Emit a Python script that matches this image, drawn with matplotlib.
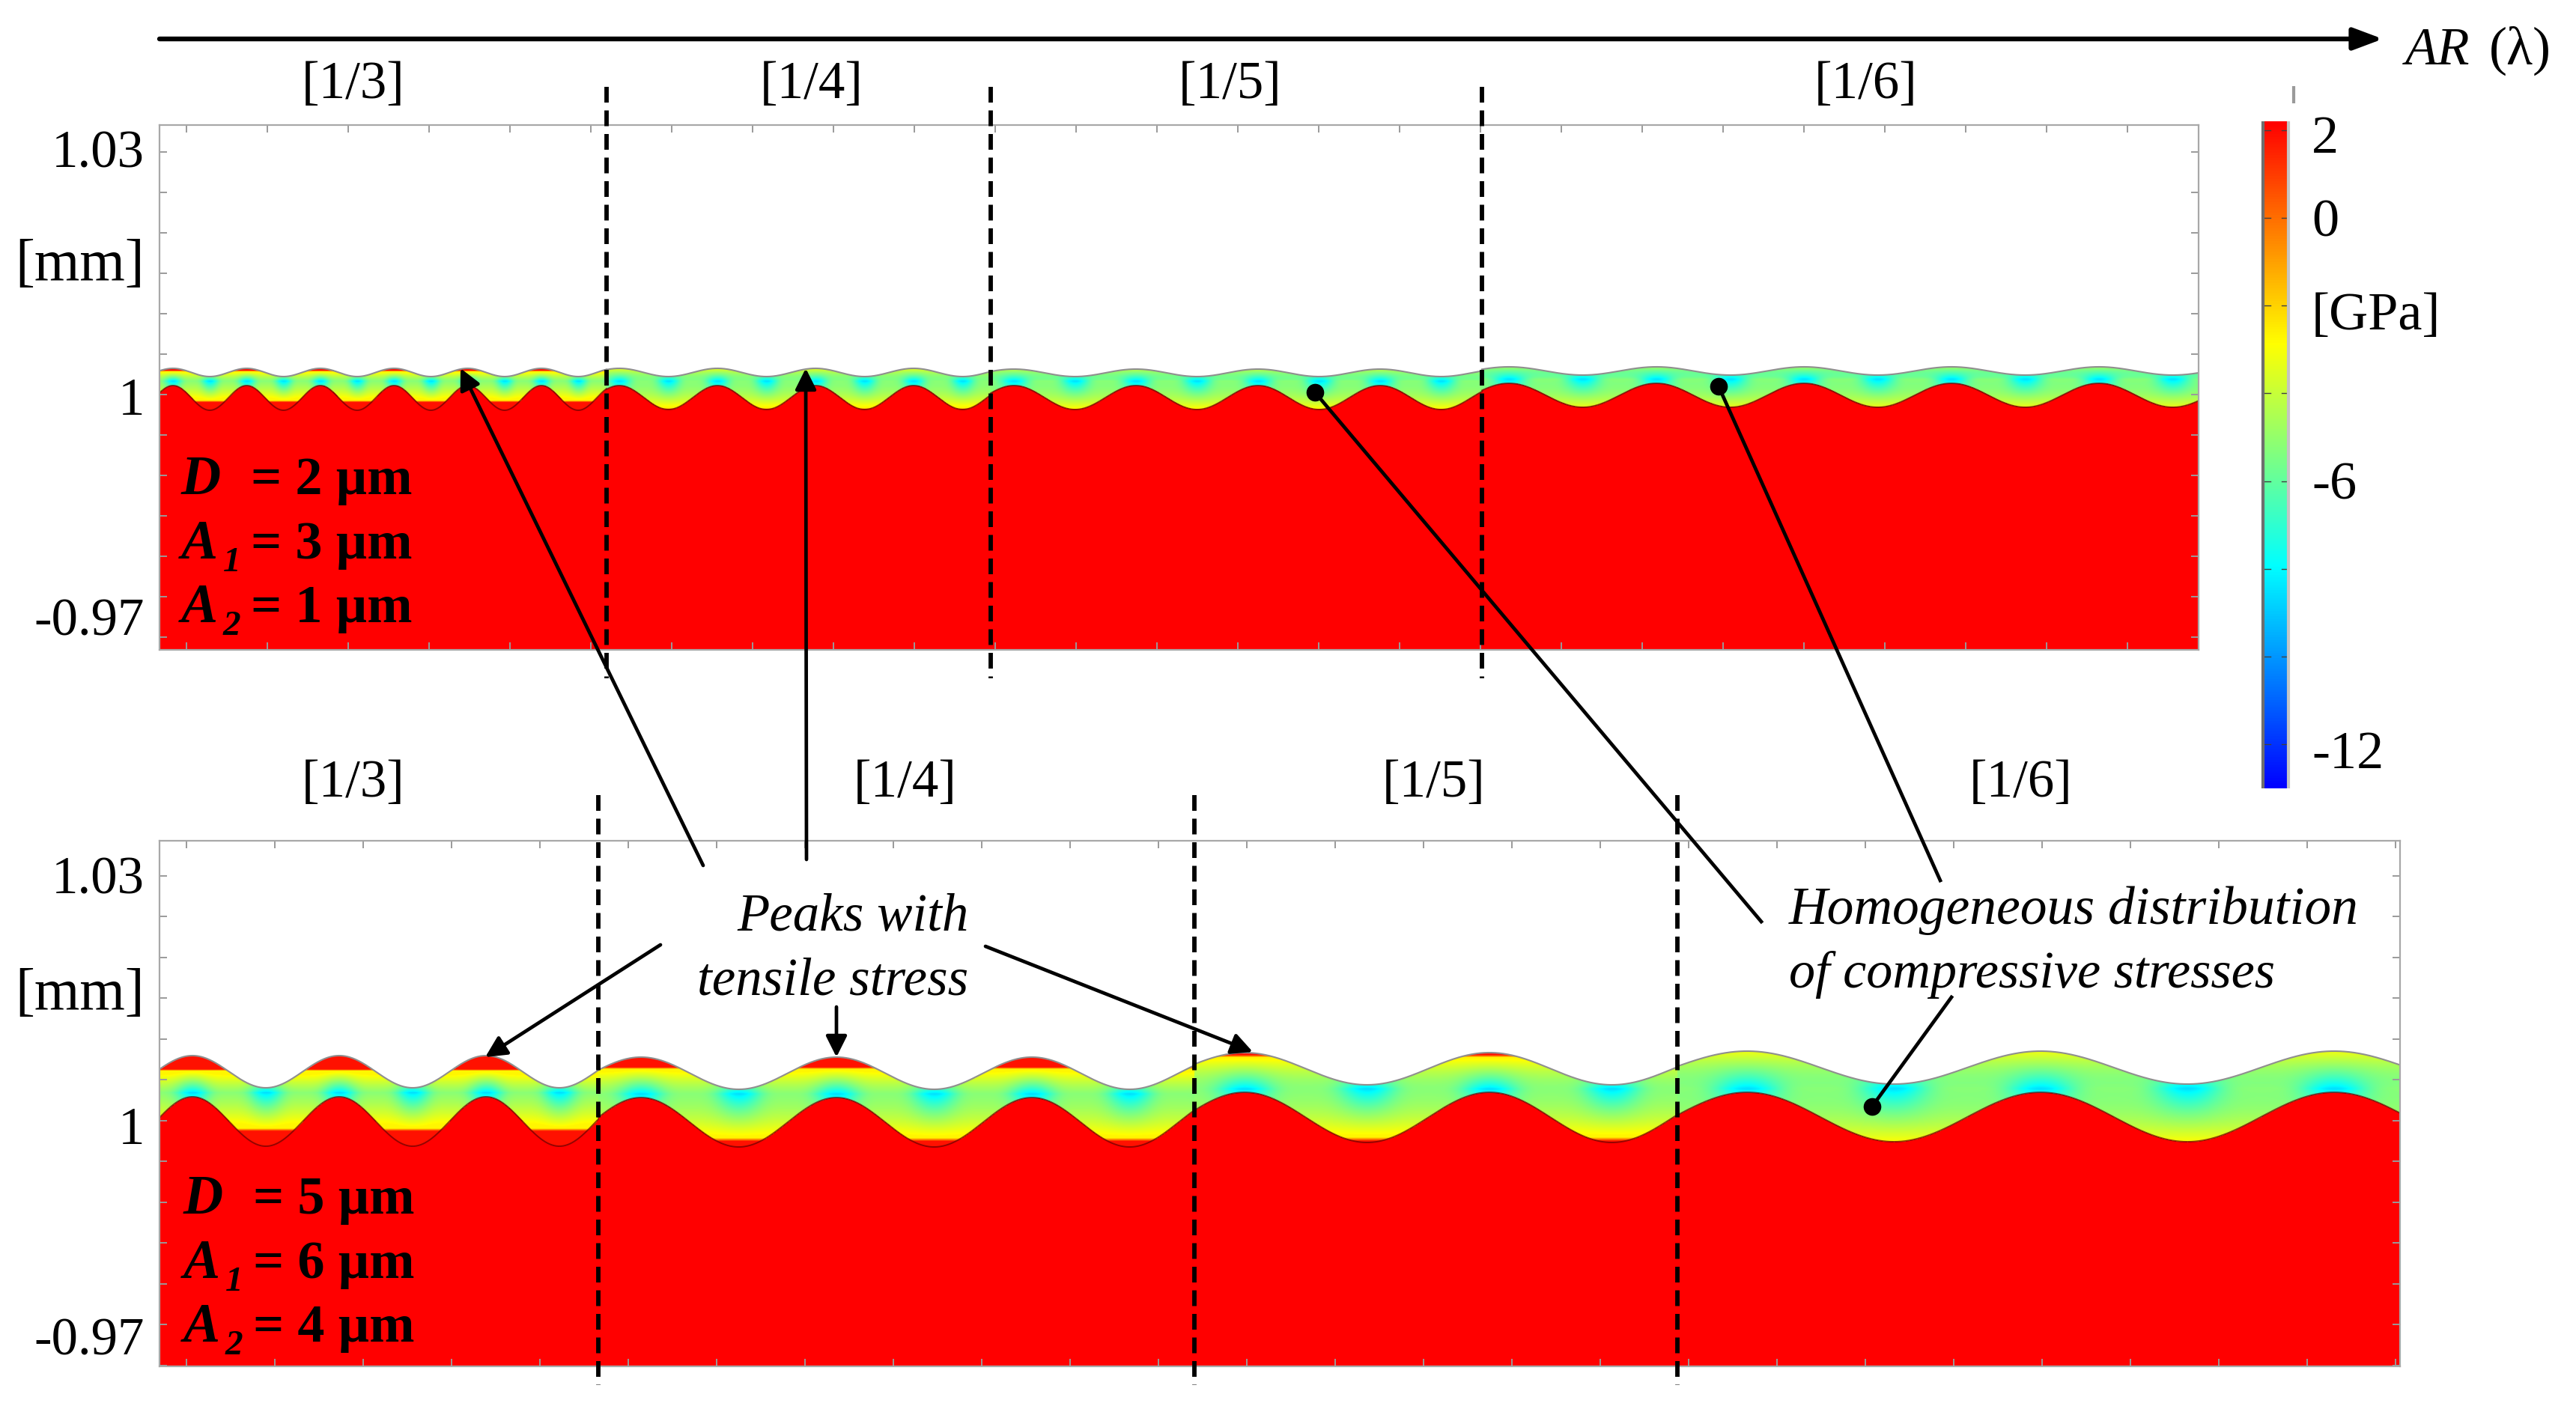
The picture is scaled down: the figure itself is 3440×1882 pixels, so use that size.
import matplotlib
matplotlib.use("Agg")
import matplotlib.pyplot as plt
import numpy as np
from matplotlib.colors import LinearSegmentedColormap

W, H = 3440, 1882
plt.rcParams["font.family"] = ["Liberation Serif", "DejaVu Serif"]

# all geometry, in reference pixels
# panel 1: D = 2, A1 = 3, A2 = 1
edges_1 = [213, 810, 1323, 1979, 2936]
first_crest_1 = [231, 827, 1354, 2015]
wavelength_1 = [98.4, 131, 163, 197]
top_crest_1 = [492, 492, 493, 490]
top_trough_1 = [503, 503, 503, 501]
iface_crest_1 = [515, 515, 515, 512]
iface_trough_1 = [548, 547, 547, 544]
stress_top_1 = [-0.9, -3.3, -4.2, -4.8]
stress_bot_1 = [0.0, -2.2, -2.7, -3.2]

# panel 2: D = 5, A1 = 6, A2 = 4
edges_2 = [213, 799, 1595, 2240, 3205]
first_crest_2 = [257, 856, 1662, 2333]
wavelength_2 = [196, 261, 327, 392]
top_crest_2 = [1410, 1412, 1406, 1404]
top_trough_2 = [1453, 1455, 1449, 1448]
iface_crest_2 = [1465, 1466, 1459, 1459]
iface_trough_2 = [1531, 1532, 1526, 1525]
stress_top_2 = [0.9, -0.15, -1.8, -3.2]
stress_bot_2 = [0.07, -1.4, -1.9, -2.9]

neutral_stress = -8.6
side_stress = 3.4
tensile_jump = -2.5

ar_labels = ["[1/3]", "[1/4]", "[1/5]", "[1/6]"]
ar_label_x_1 = [472, 1084, 1643, 2492]
ar_label_x_2 = [472, 1209, 1915, 2699]

cbar_min, cbar_max = -13.0, 2.2
cbar_ticks = [2, 0, -2, -4, -6, -8, -10, -12]
cbar_labels = ["2", "0", "[GPa]", "-6", "-12"]
cbar_label_y = [186, 298, 422, 649, 1009]

y_labels = ["1.03", "[mm]", "1", "-0.97"]
y_label_pos_1 = [206, 355, 537, 831]
y_label_pos_2 = [1176, 1329, 1511, 1792]

params_1 = [("D", "", "= 2 µm"), ("A", "1", "= 3 µm"), ("A", "2", "= 1 µm")]
params_2 = [("D", "", "= 5 µm"), ("A", "1", "= 6 µm"), ("A", "2", "= 4 µm")]

stress_cmap = LinearSegmentedColormap.from_list(
    "rainbow_comsol", [(0, "#0000ff"), (1 / 3, "#00ffff"), (2 / 3, "#ffff00"), (1, "#ff0000")]
)


def wave(x, crest_x, lam, y_crest, y_trough):
    c = np.cos(2 * np.pi * (x - crest_x) / lam)
    return (y_crest + y_trough) / 2 - (y_trough - y_crest) / 2 * c


def panel_field(xs, ys, edges, crest, lam, tc, tt, ic, it, st, sb):
    X, Y = np.meshgrid(xs, ys)
    field = np.full(X.shape, np.nan)
    for i in range(len(crest)):
        cols = (X >= edges[i]) & (X < edges[i + 1])
        top = wave(X, crest[i], lam[i], tc[i], tt[i])
        bot = wave(X, crest[i], lam[i], ic[i], it[i])
        yc = (tt[i] + ic[i]) / 2
        up = np.clip((yc - Y) / (yc - tc[i]), 0, 1.2) ** 0.85
        down = np.clip((Y - yc) / (it[i] - yc), 0, 1.2) ** 0.85
        cos2 = np.cos(2 * np.pi * (X - crest[i]) / lam[i]) ** 2
        # x-independent profile, so the yellow and red bands keep a flat edge
        flat = neutral_stress + (st[i] - neutral_stress) * up + (sb[i] - neutral_stress) * down
        s = flat + side_stress * (1 - cos2 ** 2) * np.clip(1 - up - down, 0, 1) ** 2
        s = np.minimum(s, -2.7) + 4.5 * np.clip((flat - tensile_jump) / 0.4, 0, 1)
        s[Y > bot] = 10
        s[Y < top] = np.nan
        field[cols] = s[cols]
    return np.ma.masked_invalid(field)


def draw_panel(fig, box, edges, crest, lam, tc, tt, ic, it, st, sb, x_ticks, y_ticks):
    left, top, right, bottom = box
    ax = fig.add_axes([left / W, 1 - bottom / H, (right - left) / W, (bottom - top) / H])
    xs = np.arange(left, right)
    ys = np.arange(top, bottom)
    field = panel_field(xs, ys, edges, crest, lam, tc, tt, ic, it, st, sb)
    ax.imshow(field, cmap=stress_cmap, vmin=cbar_min, vmax=cbar_max, aspect="auto",
              extent=(left, right, bottom, top), interpolation="bilinear")
    for i in range(len(crest)):
        xx = np.arange(edges[i], edges[i + 1] + 1)
        ax.plot(xx, wave(xx, crest[i], lam[i], tc[i], tt[i]), color="#8f8f8f", lw=1.5)
        ax.plot(xx, wave(xx, crest[i], lam[i], ic[i], it[i]), color="#700000", lw=1.4, alpha=0.75)
    ax.set_xlim(left, right)
    ax.set_ylim(bottom, top)
    ax.set_xticks(x_ticks)
    ax.set_yticks(y_ticks)
    ax.tick_params(direction="in", length=7, width=1.4, color="#9a9a9a",
                   top=True, right=True, labelleft=False, labelbottom=False)
    for s in ax.spines.values():
        s.set_color("#a8a8a8")
        s.set_linewidth(1.6)
    return ax


def param_block(ax, params, dx, baselines):
    for (name, sub, rest), y in zip(params, baselines):
        ax.text(242 + dx, y, name, fontsize=53, style="italic", weight="bold", ha="left", va="baseline")
        if sub:
            ax.text(298 + dx, y + 17, sub, fontsize=34, style="italic", weight="bold", ha="left", va="baseline")
        ax.text(335 + dx, y, rest, fontsize=52, weight="bold", ha="left", va="baseline")


def arrow(ax, start, tip):
    ax.annotate("", xy=tip, xytext=start, annotation_clip=False,
                arrowprops=dict(arrowstyle="-|>,head_length=17,head_width=8.5", mutation_scale=1,
                                lw=3.4, color="black", shrinkA=0, shrinkB=0))


def main():
    fig = plt.figure(figsize=(W / 100, H / 100), dpi=100, facecolor="white")

    draw_panel(fig, (213, 167, 2936, 868), edges_1, first_crest_1, wavelength_1,
               top_crest_1, top_trough_1, iface_crest_1, iface_trough_1,
               stress_top_1, stress_bot_1, np.arange(249, 2936, 108), np.arange(203, 868, 54))
    draw_panel(fig, (213, 1123, 3205, 1825), edges_2, first_crest_2, wavelength_2,
               top_crest_2, top_trough_2, iface_crest_2, iface_trough_2,
               stress_top_2, stress_bot_2, np.arange(249, 3205, 118), np.arange(1170, 1825, 54.5))

    # colour bar
    cax = fig.add_axes([3024 / W, 1 - 1053 / H, 30 / W, (1053 - 162) / H])
    sm = plt.cm.ScalarMappable(cmap=stress_cmap, norm=plt.Normalize(cbar_min, cbar_max))
    cb = fig.colorbar(sm, cax=cax)
    cb.set_ticks([])
    cb.outline.set_visible(False)
    for t in cbar_ticks:
        cax.plot([0, 0.25], [t, t], color="#404040", lw=1, transform=cax.get_yaxis_transform())
        cax.plot([0.75, 1], [t, t], color="#404040", lw=1, transform=cax.get_yaxis_transform())

    # overlay in reference pixels for the annotations
    ov = fig.add_axes([0, 0, 1, 1], facecolor="none")
    ov.set_xlim(0, W)
    ov.set_ylim(H, 0)
    ov.axis("off")

    ov.plot([3022, 3022], [162, 1053], color="#6e6e6e", lw=3, solid_capstyle="butt")
    ov.plot([3056, 3056], [162, 1053], color="#c4c4c4", lw=3, solid_capstyle="butt")
    ov.plot([3063, 3063], [115, 138], color="#9a9a9a", lw=3, solid_capstyle="butt")
    for label, y in zip(cbar_labels, cbar_label_y):
        ov.text(3087, y, label, fontsize=52, ha="left", va="center")

    # AR axis
    ov.annotate("", xy=(3182, 52), xytext=(213, 52),
                arrowprops=dict(arrowstyle="-|>,head_length=24,head_width=9", mutation_scale=1,
                                lw=4.6, color="black", shrinkA=0, shrinkB=0))
    ov.text(3212, 68, "AR", fontsize=51, style="italic", ha="left", va="center")
    ov.text(3324, 68, "(λ)", fontsize=52, ha="left", va="center")

    for label, x in zip(ar_labels, ar_label_x_1):
        ov.text(x, 113, label, fontsize=51, ha="center", va="center")
    for label, x in zip(ar_labels, ar_label_x_2):
        ov.text(x, 1047, label, fontsize=51, ha="center", va="center")

    for pos in (y_label_pos_1, y_label_pos_2):
        for label, y in zip(y_labels, pos):
            ov.text(193, y, label, fontsize=56 if label == "[mm]" else 51, ha="right", va="center")

    # segment separators
    for x in edges_1[1:-1]:
        ov.plot([x, x], [116, 906], color="black", lw=4.2, dashes=(3.6, 1.8), dash_capstyle="butt")
    for x in edges_2[1:-1]:
        ov.plot([x, x], [1062, 1850], color="black", lw=4.2, dashes=(3.6, 1.8), dash_capstyle="butt")

    param_block(ov, params_1, 0, [660, 746, 831])
    param_block(ov, params_2, 3, [1621, 1707, 1792])

    # tensile peaks
    arrow(ov, (939, 1156), (615, 492))
    arrow(ov, (1077, 1148), (1076, 492))
    arrow(ov, (882, 1262), (648, 1412))
    arrow(ov, (1117, 1345), (1117, 1412))
    arrow(ov, (1316, 1264), (1673, 1405))
    ov.text(1139, 1225, "Peaks with", fontsize=51, style="italic", ha="center", va="center")
    ov.text(1112, 1311, "tensile stress", fontsize=51, style="italic", ha="center", va="center")

    # compressive regions
    for dot, end in [((1756, 524), (2352, 1231)), ((2295, 516), (2591, 1176)), ((2500, 1478), (2606, 1332))]:
        ov.plot([dot[0], end[0]], [dot[1], end[1]], color="black", lw=3.4)
        ov.plot(dot[0], dot[1], "o", color="black", ms=17, mew=0)
    ov.text(2389, 1216, "Homogeneous distribution", fontsize=51.5, style="italic", ha="left", va="center")
    ov.text(2389, 1302, "of compressive stresses", fontsize=50.5, style="italic", ha="left", va="center")

    fig.savefig("out.png", dpi=100)


if __name__ == "__main__":
    main()
